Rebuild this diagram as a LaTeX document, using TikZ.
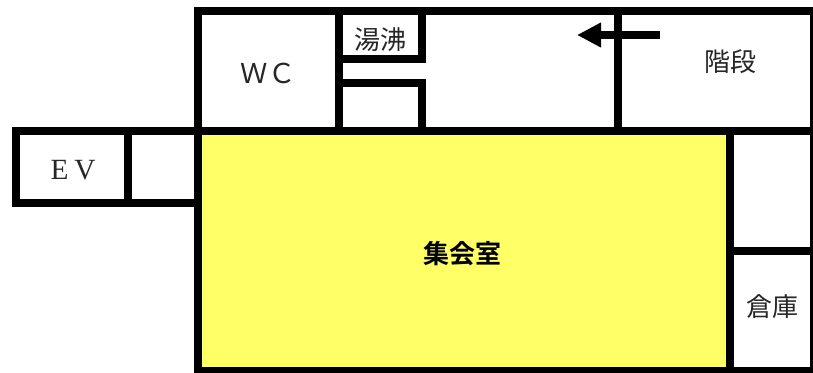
\documentclass[tikz,border=0pt]{standalone}
\usepackage{fontspec}
\setmainfont{Liberation Serif}
\newfontfamily\jpfont{Noto Sans CJK JP}
\newfontfamily\jpbold[BoldFont={Noto Sans CJK JP Bold}]{Noto Sans CJK JP}
\usetikzlibrary{arrows.meta}
\definecolor{hallyellow}{HTML}{FFFF66}
\tikzset{
  wall/.style={line width=6pt,line cap=rect,color=black},
  lbl/.style={inner sep=0pt,text=black!85,font=\jpfont\fontsize{19.5pt}{22pt}\selectfont},
}
\begin{document}
\begin{tikzpicture}[x=0.75pt,y=-0.75pt]
\useasboundingbox (0,0) rectangle (813,372);
\fill[white] (0,0) rectangle (813,372);
\fill[hallyellow] (198,131) rectangle (730,371);
% outer walls
\draw[wall] (198,11) -- (818,11);
\draw[wall] (198,11) -- (198,376);
\draw[wall] (198,371) -- (818,371);
\draw[wall] (814,11) -- (814,376);
\draw[wall] (16,131) -- (814,131);
\draw[wall] (16,131) -- (16,203) -- (198,203);
\draw[wall] (128,131) -- (128,203);
% upper rooms
\draw[wall] (338.5,11) -- (338.5,131);
\draw[wall] (338.5,59) -- (422,59) -- (422,11);
\draw[wall] (338.5,83) -- (422,83) -- (422,131);
\draw[wall] (618,11) -- (618,131);
% right rooms
\draw[wall] (730,131) -- (730,371);
\draw[wall] (730,251) -- (814,251);
% arrow
\coordinate (arrowstart) at (660,35);
\coordinate (arrowend) at (577,35);
\draw[line width=6pt,-{Triangle[length=18pt,width=17.5pt]}] (arrowstart) -- (arrowend);
% labels
\node[lbl] (yu) at (380.7,40) {湯沸};
\node[lbl] (kai) at (730.7,62) {階段};
\node[lbl] (so) at (772,307) {倉庫};
\node[lbl,font=\jpfont\fontsize{20.5pt}{22pt}\selectfont] (wc) at (268,73) {ＷＣ};
\node[inner sep=0pt,text=black!85,font=\fontsize{22pt}{24pt}\selectfont] (ev) at (73,170) {E\hspace{0.2em}V};
\node[inner sep=0pt,text=black,font=\jpbold\bfseries\fontsize{19.5pt}{22pt}\selectfont] (hall) at (462,254) {集会室};
\end{tikzpicture}
\end{document}
